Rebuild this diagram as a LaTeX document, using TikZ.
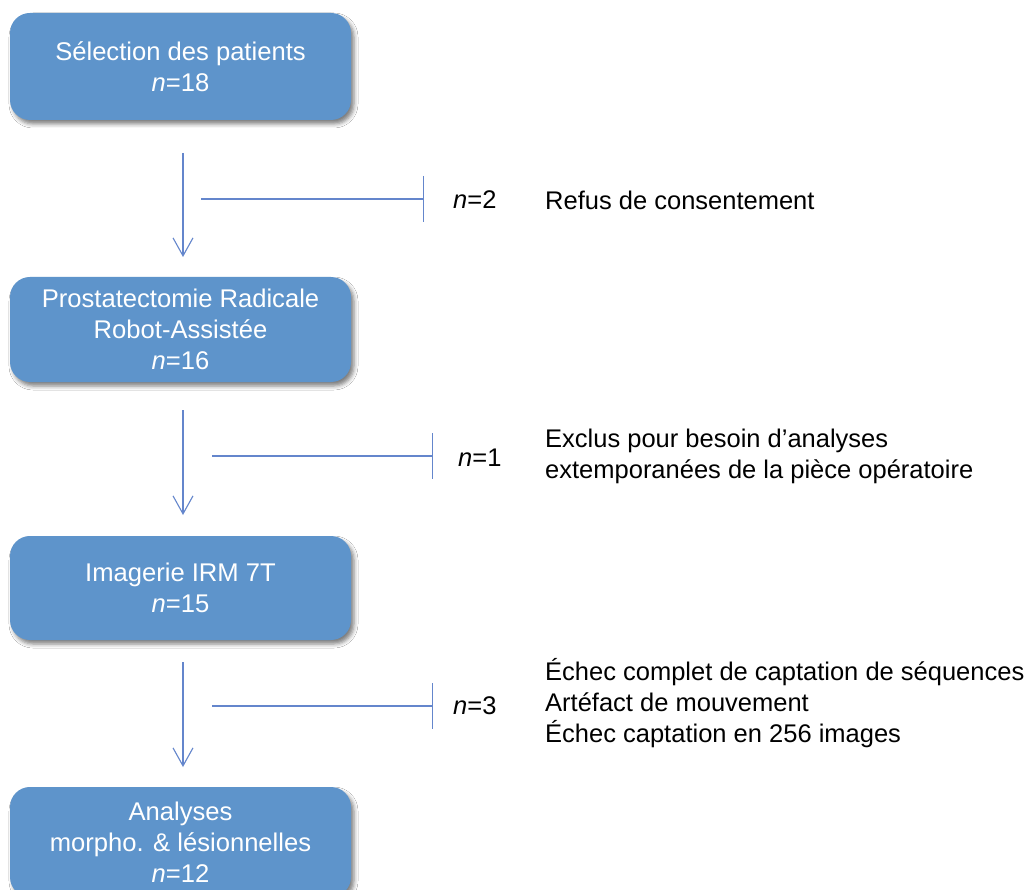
\documentclass[tikz,border=0pt]{standalone}
\usepackage{fontspec}
\setmainfont{Liberation Sans}
\usetikzlibrary{arrows.meta,shadows.blur}
\definecolor{boxblue}{RGB}{94,148,203}
\definecolor{lineblue}{RGB}{100,134,204}
\tikzset{
  stagebox/.style={draw=none, fill=boxblue, rounded corners=20pt, minimum width=341pt,
    text=white, align=center, font=\fontsize{25.6}{31}\selectfont, inner sep=0pt,
    blur shadow={shadow xshift=3pt, shadow yshift=-4pt, shadow blur radius=4pt, shadow opacity=50}},
  flow/.style={draw=lineblue, line width=1.1pt, -{Straight Barb[length=18pt,width=20pt,line width=1.1pt]}},
  excl/.style={draw=lineblue, line width=1.1pt, -{Bar[width=46pt,line width=1.1pt]}},
  lbl/.style={anchor=west, inner sep=0pt, align=left, font=\fontsize{25.5}{31}\selectfont}
}
\begin{document}
\begin{tikzpicture}[x=1pt,y=-1pt]
\useasboundingbox (0,0) rectangle (1027,890);
\clip (0,0) rectangle (1027,890);
\fill[white] (0,0) rectangle (1027,890);

\node[stagebox, minimum height=107pt] (b1) at (180.5,66.5) {Sélection des patients\\\textit{n}=18};
\node[stagebox, minimum height=105pt] (b2) at (180.5,329.5) {Prostatectomie Radicale\\Robot-Assistée\\\textit{n}=16};
\node[stagebox, minimum height=104pt] (b3) at (180.5,588) {Imagerie IRM 7T\\\textit{n}=15};
\node[stagebox, minimum height=110pt] (b4) at (180.5,842) {Analyses\\morpho. \& lésionnelles\\\textit{n}=12};

% flow arrows
\coordinate (f1s) at (183,153); \coordinate (f1e) at (183,257);
\coordinate (f2s) at (183,410); \coordinate (f2e) at (183,515);
\coordinate (f3s) at (183,662); \coordinate (f3e) at (183,767);
\draw[flow] (f1s) -- (f1e);
\draw[flow] (f2s) -- (f2e);
\draw[flow] (f3s) -- (f3e);

% exclusion lines
\coordinate (e1s) at (201,199); \coordinate (e1e) at (424,199);
\coordinate (e2s) at (212,456); \coordinate (e2e) at (433,456);
\coordinate (e3s) at (212,706); \coordinate (e3e) at (433,706);
\draw[excl] (e1s) -- (e1e);
\draw[excl] (e2s) -- (e2e);
\draw[excl] (e3s) -- (e3e);

% labels
\node[lbl] (n1) at (453,200) {\textit{n}=2};
\node[lbl] (t1) at (545,200) {Refus de consentement};
\node[lbl] (n2) at (458,458) {\textit{n}=1};
\node[lbl] (t2) at (545,456) {Exclus pour besoin d’analyses\\extemporanées de la pièce opératoire};
\node[lbl] (n3) at (453,706) {\textit{n}=3};
\node[lbl] (t3) at (545,703) {Échec complet de captation de séquences\\Artéfact de mouvement\\Échec captation en 256 images};
\end{tikzpicture}
\end{document}
